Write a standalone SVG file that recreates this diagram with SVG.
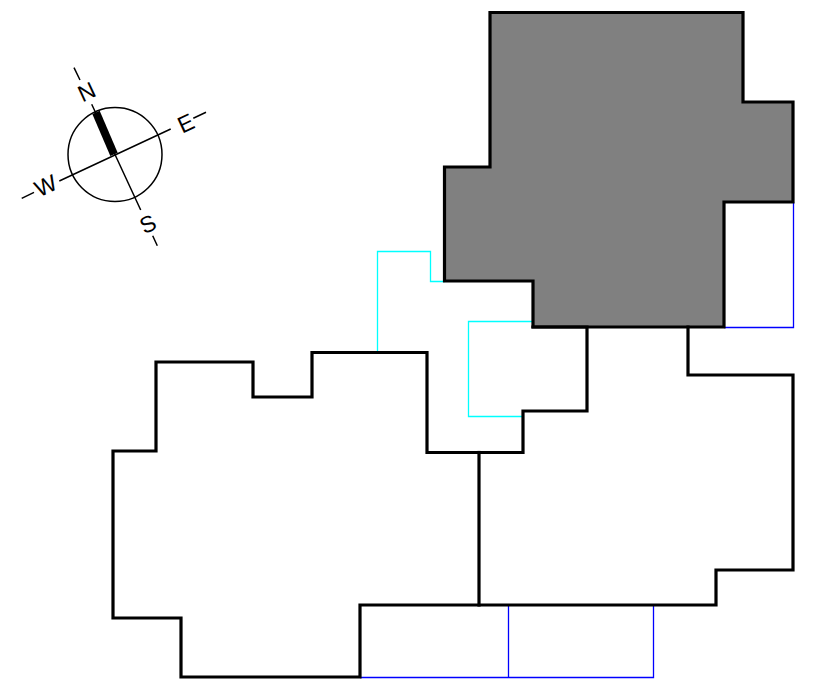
<svg xmlns="http://www.w3.org/2000/svg" width="827" height="687" viewBox="0 0 827 687">
<style>
.w{fill:none;stroke:#000;stroke-width:3.200;stroke-linejoin:miter;stroke-linecap:square}
.c{fill:none;stroke:#00ffff;stroke-width:1.300}
.b{fill:none;stroke:#0000ff;stroke-width:1.300}
.n{fill:none;stroke:#000;stroke-width:1.500}
text{font-family:"Liberation Sans",Arial,sans-serif;font-size:23px;fill:#000;text-anchor:middle;dominant-baseline:central}
</style>
<rect width="827" height="687" fill="#fff"/>
<g id="thin-lines">
<path class="c" d="M377.500 352V251.500H430.500V281.500H445M533 321.500H468.500V416.500H523"/>
<path class="b" d="M360 677.500H653.500V605M508.500 605V677.500M724 327.500H793.500V202"/>
</g>
<g id="plan">
<path class="w" style="fill:#808080" d="M490 12.500H743V102H793V202H724V327H533V281H444.500V167H490Z"/>
<path class="w" d="M533 327H587V411H523V452.500H427V352.500H312V397H253V362H156V451H113V618H181V677H360V605H716V570H793V375H688V327"/>
<path class="w" d="M479 452.500V605"/>
</g>
<g id="compass">
<circle class="n" cx="115" cy="154.500" r="47"/>
<path class="n" d="M91.700 104.300L140.700 210M74 67.700L80 80M152.700 235.700L157.300 245.700M59.300 181L170.700 129M193.300 118.300L206 112.300M21.700 198.300L34 192.300"/>
<path d="M96 112.300L114 154.300" fill="none" stroke="#000" stroke-width="8"/>
<text transform="translate(86.700 91.700) rotate(-25)">N</text>
<text transform="translate(185.700 123.300) rotate(-25)">E</text>
<text transform="translate(45.700 185.700) rotate(-25)">W</text>
<text transform="translate(147.700 224) rotate(-25)">S</text>
</g>
</svg>
